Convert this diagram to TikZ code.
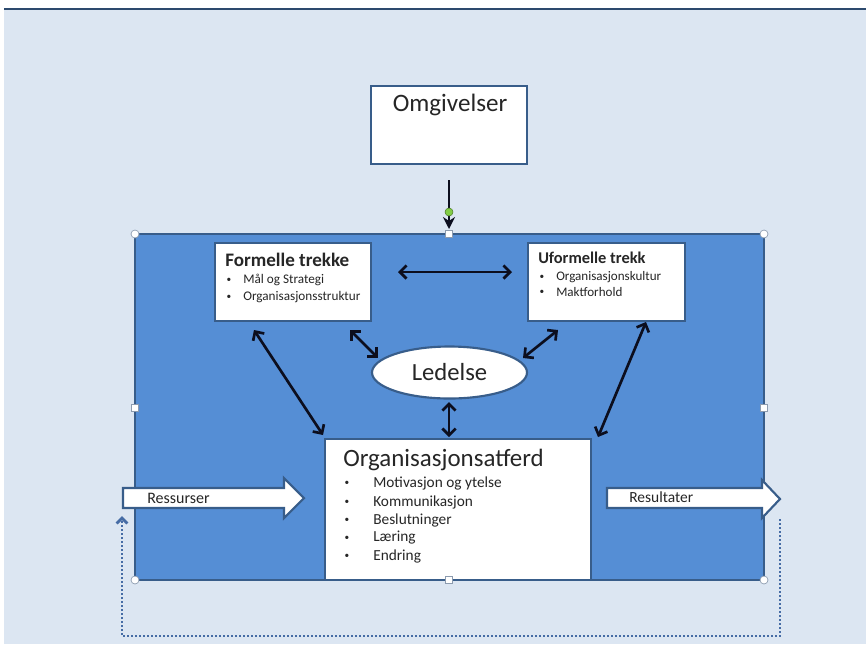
\documentclass[tikz,border=0pt]{standalone}
\usepackage{fontspec}
\setmainfont{Carlito}
\usetikzlibrary{arrows.meta,shapes.geometric,fit}
\definecolor{bgblue}{RGB}{220,230,242}
\definecolor{panel}{RGB}{85,142,213}
\definecolor{edge}{RGB}{56,93,138}
\definecolor{ink}{RGB}{12,14,30}
\definecolor{txtc}{RGB}{38,38,38}
\definecolor{dotc}{RGB}{70,108,165}
\definecolor{handle}{RGB}{140,155,175}
\definecolor{rot}{RGB}{130,205,70}
\tikzset{
  wbox/.style={draw=edge, line width=1.6pt, fill=white, inner sep=0pt},
  txt/.style={inner sep=0pt, anchor=west, text=txtc},
  dbl/.style={ink, line width=2pt, {Straight Barb[length=5pt,width=10pt]}-{Straight Barb[length=5pt,width=10pt]}},
  corner/.style={circle, draw=handle, fill=white, inner sep=0pt, minimum size=6pt, line width=0.5pt},
  mid/.style={rectangle, draw=handle, fill=white, inner sep=0pt, minimum size=5pt, line width=0.5pt},
  blockarrow/.style={draw=edge, line width=1.6pt, fill=white, line join=miter},
  fA/.style={font=\fontsize{9.9}{11}\selectfont},
  fU/.style={font=\fontsize{9.8}{11}\selectfont},
  fO/.style={font=\fontsize{11.5}{13}\selectfont},
  bulsty/.style={inner sep=0pt, text=txtc, font=\fontsize{7}{8}\selectfont},
}
\begin{document}
\begin{tikzpicture}[x=0.75pt,y=-0.75pt]
\useasboundingbox (0,0) rectangle (866,644);
\fill[white] (0,0) rectangle (866,644);
\fill[bgblue] (4,9) rectangle (866,644);
\draw[edge!80!black, line width=1.5pt] (4,9) -- (866,9);

% Omgivelser
\node[wbox, fit={(371,86)(527,164)}] (omg) {};
\node[inner sep=0pt, text=txtc, font=\fontsize{18.8}{21}\selectfont] (omgt) at (450,105) {Omgivelser};

% main panel
\node[draw=edge, line width=1.6pt, fill=panel, inner sep=0pt, fit={(135,234)(764,580)}] (panel) {};

% arrow from Omgivelser
\coordinate (omgs) at (449,180);
\coordinate (omge) at (449,229);
\draw[ink, line width=2.2pt, -{Stealth[length=9pt,width=9pt,inset=3pt]}] (omgs) -- (omge);

% Formelle trekke
\node[wbox, fit={(215,243)(371,321)}] (form) {};
\node[txt, font=\bfseries\fontsize{14.3}{16}\selectfont] (formt) at (225,260) {Formelle trekke};
\node[bulsty] (fb1) at (229,280) {•};
\node[txt, fA] (f1) at (243,280) {Mål og Strategi};
\node[bulsty] (fb2) at (229,297) {•};
\node[txt, fA] (f2) at (243,297) {Organisasjonsstruktur};

% Uformelle trekk
\node[wbox, fit={(528,243)(685,321)}] (uform) {};
\node[txt, font=\bfseries\fontsize{12.3}{14}\selectfont] (uformt) at (538,258) {Uformelle trekk};
\node[bulsty] (ub1) at (542,277) {•};
\node[txt, fU] (u1) at (556,277) {Organisasjonskultur};
\node[bulsty] (ub2) at (542,292) {•};
\node[txt, fU] (u2) at (556,292) {Maktforhold};

% Ledelse
\node[ellipse, draw=edge, line width=1.6pt, fill=white, minimum width=155*0.75pt, minimum height=52*0.75pt, inner sep=0pt] (led) at (449.5,372.5) {};
\node[inner sep=0pt, text=txtc, font=\fontsize{18.5}{21}\selectfont] (ledt) at (449.5,372) {Ledelse};

% Organisasjonsatferd
\node[wbox, fit={(325,439)(591,580)}] (org) {};
\node[txt, font=\fontsize{18.7}{21}\selectfont] (orgt) at (343,460) {Organisasjonsatferd};
\foreach \t/\yy [count=\i] in {Motivasjon og ytelse/483, Kommunikasjon/502, Beslutninger/520, Læring/538, Endring/556}{
  \node[bulsty] (ob\i) at (347,\yy) {•};
  \node[txt, fO] (o\i) at (373,\yy) {\t};
}

% connectors
\coordinate (a1s) at (254,330); \coordinate (a1e) at (323,435);
\coordinate (a2s) at (350,330); \coordinate (a2e) at (378,358);
\coordinate (a3s) at (523,358); \coordinate (a3e) at (558,330);
\coordinate (a4s) at (646,322); \coordinate (a4e) at (598,437);
\coordinate (a5s) at (398,272); \coordinate (a5e) at (512,272);
\coordinate (a6s) at (449,402); \coordinate (a6e) at (449,437);
\draw[dbl] (a1s) -- (a1e);
\draw[dbl] (a2s) -- (a2e);
\draw[dbl] (a3s) -- (a3e);
\draw[dbl] (a4s) -- (a4e);
\draw[dbl] (a5s) -- (a5e);
\draw[dbl] (a6s) -- (a6e);

% Ressurser block arrow
\draw[blockarrow] (123,488) -- (284,488) -- (284,478) -- (304,498) -- (284,518) -- (284,508) -- (123,508) -- cycle;
\node[txt, font=\fontsize{12}{14}\selectfont] (res) at (147,498) {Ressurser};
% Resultater block arrow
\draw[blockarrow] (607,488) -- (762,488) -- (762,480) -- (780,499) -- (762,518) -- (762,508) -- (607,508) -- cycle;
\node[txt, font=\fontsize{11.6}{14}\selectfont] (resu) at (629,497) {Resultater};

% feedback loop
\coordinate (lp0) at (780,519);
\coordinate (lp1) at (780,636);
\coordinate (lp2) at (122,636);
\coordinate (lp3) at (122,516);
\draw[dotc, line width=2.2pt, dash pattern=on 1.5pt off 1.5pt, -{Straight Barb[length=4pt,width=8pt]}] (lp0) -- (lp1) -- (lp2) -- (lp3);

% selection handles
\node[corner] (h1) at (135,234) {};
\node[corner] (h2) at (764,234) {};
\node[corner] (h3) at (135,580) {};
\node[corner] (h4) at (764,580) {};
\node[mid] (h5) at (449,234) {};
\node[mid] (h6) at (449,580) {};
\node[mid] (h7) at (135,408) {};
\node[mid] (h8) at (764,408) {};
\node[circle, fill=rot, draw=rot!60!black, line width=0.4pt, inner sep=0pt, minimum size=6pt] (h9) at (449,212) {};
\end{tikzpicture}
\end{document}
